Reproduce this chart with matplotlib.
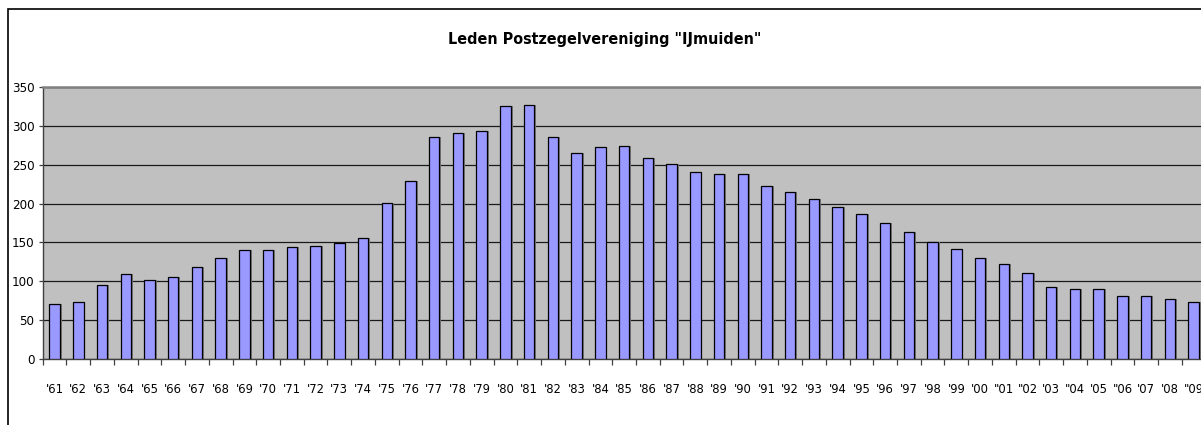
import matplotlib
matplotlib.use("Agg")
import matplotlib.pyplot as plt
from matplotlib import font_manager
from matplotlib.patches import Rectangle
import numpy as np

years = ["'61", "'62", "'63", "'64", "'65", "'66", "'67", "'68", "'69", "'70",
         "'71", "'72", "'73", "'74", "'75", "'76", "'77", "'78", "'79", "'80",
         "'81", "'82", "'83", "'84", "'85", "'86", "'87", "'88", "'89", "'90",
         "'91", "'92", "'93", "'94", "'95", "'96", "'97", "'98", "'99", "'00",
         "\"01", "\"02", "'03", "\"04", "'05", "\"06", "'07", "'08", "\"09"]
members = [71, 74, 95, 109, 102, 106, 118, 130, 140, 140,
           144, 146, 149, 156, 201, 229, 286, 291, 293, 325,
           327, 286, 265, 272, 274, 258, 251, 241, 238, 238,
           222, 215, 206, 196, 187, 175, 163, 151, 142, 130,
           123, 111, 93, 90, 90, 81, 81, 78, 74]
yticks = [0, 50, 100, 150, 200, 250, 300, 350]
title = 'Leden Postzegelvereniging "IJmuiden"'


def is_condensed(f):
    st = f.stretch
    if isinstance(st, str):
        return "condensed" in st
    try:
        return int(st) < 500
    except Exception:
        return False


narrow = None
for f in font_manager.fontManager.ttflist:
    if "Narrow" in f.name or "Condensed" in f.name or is_condensed(f):
        if "Mono" in f.name or "Serif" in f.name:
            continue
        narrow = f
        break

stretch = "normal"
if narrow is not None:
    fam = [narrow.name, "DejaVu Sans"]
    stretch = "condensed" if is_condensed(narrow) else "normal"
    narrow_ok = True
else:
    fam = ["Liberation Sans", "DejaVu Sans"]
    narrow_ok = False
plt.rcParams["font.family"] = fam

W, H = 1201, 425
fig = plt.figure(figsize=(W / 100, H / 100), dpi=100)
fig.patch.set_facecolor("white")

# outer chart frame (cropped on the right and bottom)
fig.patches.append(Rectangle((8 / W, -0.2), 1.5, 1.2 - 9 / H,
                             transform=fig.transFigure, fill=False,
                             edgecolor="black", linewidth=1.2))

left, right = 42.7, 1205.5
top, bottom = 86.7, 359.3
ax = fig.add_axes([left / W, (H - bottom) / H, (right - left) / W, (bottom - top) / H])
ax.set_facecolor("#C0C0C0")

x = np.arange(len(members))
ax.bar(x + 0.08, members, width=0.44, color="#7a7a7a", edgecolor="none", zorder=2)
ax.bar(x, members, width=0.44, color="#9999FF", edgecolor="black", linewidth=0.9, zorder=3)

fs_xtick = 9.3
fs_ytick = 9.5
fs_title = 11.5

ax.set_xlim(-0.5, len(members) - 0.5)
ax.set_ylim(0, 350)
ax.set_yticks(yticks)
ax.set_yticklabels([str(v) for v in yticks], fontsize=fs_ytick, fontstretch=stretch)
ax.yaxis.grid(True, color="#1a1a1a", linewidth=0.9, zorder=1)
ax.set_axisbelow(True)

ax.set_xticks(x)
ax.set_xticklabels(years, fontsize=fs_xtick, fontstretch=stretch)
ax.set_xticks(np.arange(len(members) + 1) - 0.5, minor=True)
ax.tick_params(axis="x", which="major", length=0, pad=17)
ax.tick_params(axis="x", which="minor", length=4, width=0.9, color="#404040", direction="out")
ax.tick_params(axis="y", which="major", length=3, width=0.9, color="#404040", pad=3)

ax.spines["top"].set_color("#808080")
ax.spines["top"].set_linewidth(1.8)
ax.spines["left"].set_color("#404040")
ax.spines["left"].set_linewidth(1.0)
ax.spines["bottom"].set_color("#404040")
ax.spines["bottom"].set_linewidth(1.0)
ax.spines["right"].set_visible(False)

fig.text(604.5 / W, (H - 39.5) / H, title, ha="center", va="center",
         fontsize=fs_title, fontweight="bold", fontstretch=stretch)

fig.savefig("out.png", dpi=100)
